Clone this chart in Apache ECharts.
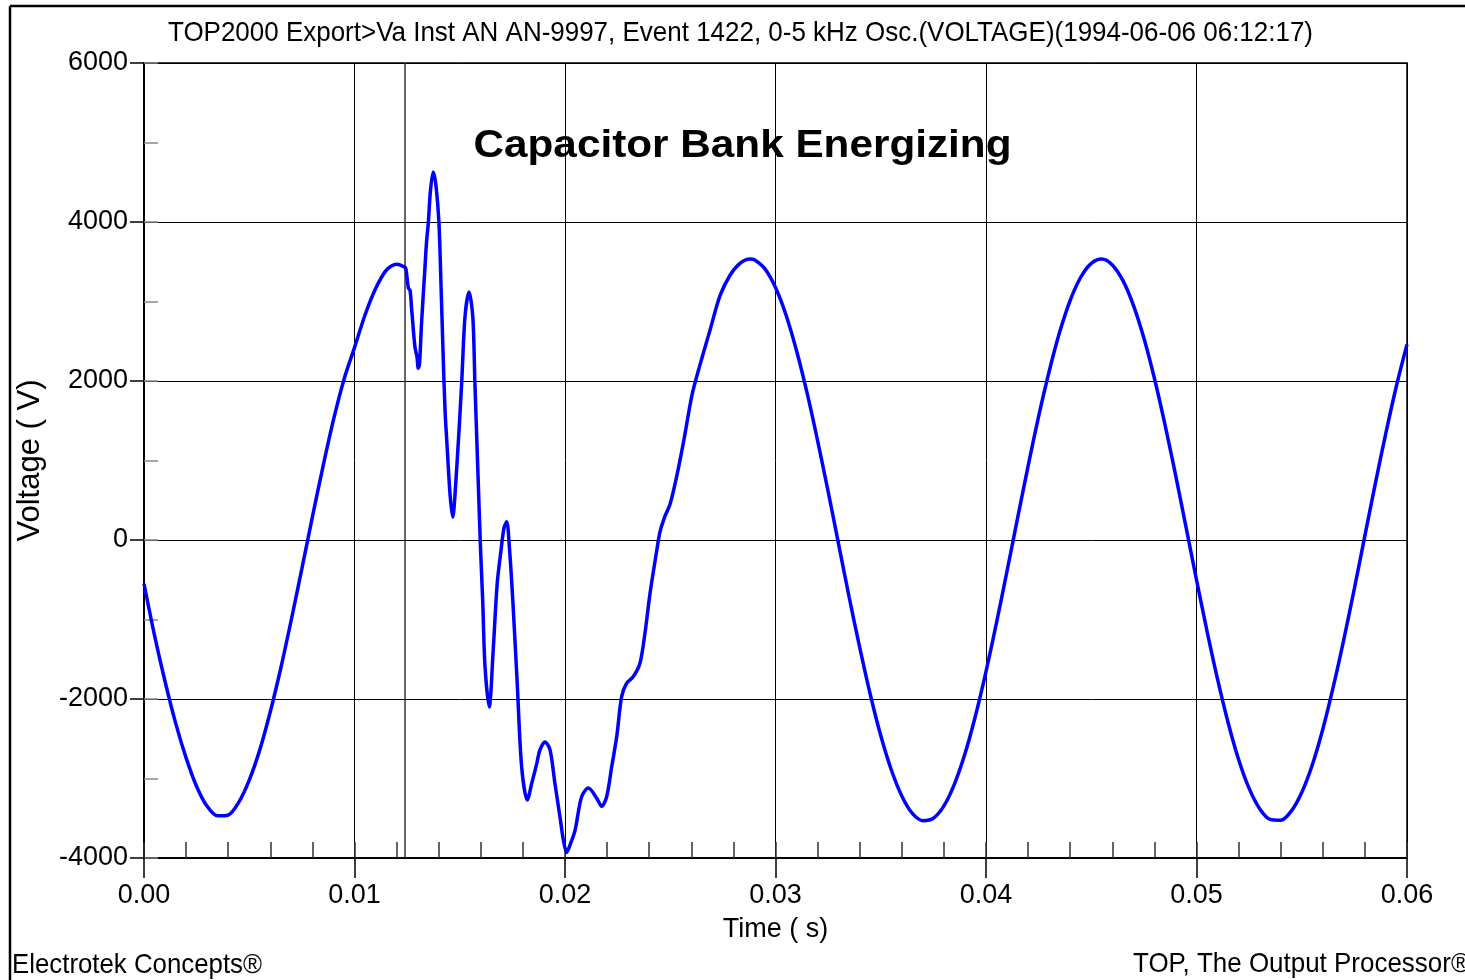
<!DOCTYPE html>
<html>
<head>
<meta charset="utf-8">
<title>Capacitor Bank Energizing</title>
<script src="https://cdn.jsdelivr.net/npm/echarts@6/dist/echarts.min.js"></script>
<style>
  html, body { margin: 0; padding: 0; background: #fff; }
  #chart { width: 1465px; height: 980px; }
</style>
</head>
<body>
<div id="chart"></div>
<script>
// Phase-A instantaneous voltage, event 1422 (seconds, volts)
const timeS = [
  0.0000, 0.0005, 0.0010, 0.0015, 0.0020, 0.0025, 0.0030, 0.0035, 0.0040, 0.0045,
  0.0050, 0.0055, 0.0060, 0.0065, 0.0070, 0.0075, 0.0080, 0.0085, 0.0090, 0.0095,
  0.0100, 0.0105, 0.0110, 0.0115, 0.0120,
  0.01240, 0.01245, 0.01256, 0.01264, 0.01272, 0.01287, 0.01297, 0.01303, 0.01309, 0.01318,
  0.01327, 0.01335, 0.01342, 0.01351, 0.01361, 0.01374, 0.01387, 0.01401, 0.01411, 0.01420,
  0.01430, 0.01441, 0.01454, 0.01466, 0.01486, 0.01509, 0.01525, 0.01544, 0.01562, 0.01572,
  0.01588, 0.01599, 0.01609, 0.01620, 0.01640, 0.01659, 0.01678, 0.01696, 0.01710, 0.01723,
  0.01736, 0.01752, 0.01773, 0.01794, 0.01821, 0.01842, 0.01866, 0.01881, 0.01905, 0.01929,
  0.01952, 0.01976, 0.01992, 0.02008, 0.02027, 0.02048, 0.02079, 0.02111, 0.02151, 0.02174,
  0.02198, 0.02222, 0.02246, 0.02269, 0.02293, 0.02324, 0.02356, 0.02380, 0.02404, 0.02436,
  0.02451, 0.02475, 0.02499, 0.02527, 0.02565, 0.02603, 0.02641, 0.02689, 0.02736, 0.02784,
  0.02831, 0.02879,
  0.0290, 0.0295, 0.0300, 0.0305, 0.0310, 0.0315, 0.0320, 0.0325, 0.0330, 0.0335,
  0.0340, 0.0345, 0.0350, 0.0355, 0.0360, 0.0365, 0.0370, 0.0375, 0.0380, 0.0385,
  0.0390, 0.0395, 0.0400, 0.0405, 0.0410, 0.0415, 0.0420, 0.0425, 0.0430, 0.0435,
  0.0440, 0.0445, 0.0450, 0.0455, 0.0460, 0.0465, 0.0470, 0.0475, 0.0480, 0.0485,
  0.0490, 0.0495, 0.0500, 0.0505, 0.0510, 0.0515, 0.0520, 0.0525, 0.0530, 0.0535,
  0.0540, 0.0545, 0.0550, 0.0555, 0.0560, 0.0565, 0.0570, 0.0575, 0.0580, 0.0585,
  0.0590, 0.0595, 0.0600
];

const voltageV = [
  -550, -1200, -1780, -2300, -2740, -3100, -3350, -3470, -3460, -3300,
  -3020, -2640, -2160, -1610, -1000, -360, 290, 920, 1510, 2020,
  2420, 2830, 3160, 3390, 3470,
  3430, 3400, 3170, 3140, 2890, 2430, 2300, 2160, 2220, 2700,
  3100, 3440, 3740, 4000, 4400, 4630, 4460, 4000, 3210, 2420,
  1640, 1130, 570, 290, 920, 1970, 2810, 3120, 2810, 1975,
  720, -130, -760, -1590, -2100, -1380, -545, -130, 150, 230,
  -100, -760, -1800, -2850, -3270, -3060, -2810, -2640, -2540, -2640,
  -3060, -3480, -3770, -3930, -3815, -3650, -3230, -3120, -3250, -3350,
  -3230, -2850, -2470, -1970, -1800, -1720, -1550, -1170, -670, -130,
  100, 300, 450, 755, 1260, 1820, 2200, 2640, 3070, 3330,
  3480, 3535,
  3525, 3410, 3175, 2830, 2380, 1850, 1250, 610, -55, -720,
  -1350, -1940, -2460, -2890, -3220, -3440, -3530, -3500, -3345, -3070,
  -2690, -2210, -1655, -1040, -390, 275, 930, 1555, 2120, 2615,
  3015, 3305, 3480, 3535, 3460, 3265, 2955, 2540, 2035, 1455,
  825, 165, -500, -1145, -1750, -2295, -2760, -3125, -3380, -3515,
  -3525, -3410, -3175, -2830, -2380, -1845, -1250, -610, 55, 715,
  1350, 1940, 2460
];

// Moment the capacitor bank switch closes
const triggerTime = 0.0124;

// Axis scales and tick steps
const timeMin = 0, timeMax = 0.06, timeMajor = 0.01, timeMinor = 0.002;
const voltMin = -4000, voltMax = 6000, voltMajor = 2000, voltMinor = 1000;

// Text drawn on the page
const headerText = 'TOP2000 Export>Va Inst AN AN-9997, Event 1422, 0-5 kHz Osc.(VOLTAGE)(1994-06-06 06:12:17)';
const titleText = 'Capacitor Bank Energizing';
const xName = 'Time ( s)';
const yName = 'Voltage ( V)';
const footerLeft = 'Electrotek Concepts\u00AE';
const footerRight = 'TOP, The Output Processor\u00AE';

const FONT = '"Liberation Sans", Arial, Helvetica, sans-serif';

// Horizontal squeeze so a string fills a given width (the captions use tight spacing)
const measureCtx = document.createElement('canvas').getContext('2d');
function squeeze(text, font, width) {
  measureCtx.font = font;
  return width / measureCtx.measureText(text).width;
}

const waveform = timeS.map((t, i) => [t, voltageV[i]]);
const triggerLine = [[triggerTime, voltMin], [triggerTime, voltMax]];

const headerFont = '28px ' + FONT;
const titleFont = 'bold 39px ' + FONT;
const footFont = '28px ' + FONT;

const chart = echarts.init(document.getElementById('chart'));

chart.setOption({
  animation: false,
  backgroundColor: '#ffffff',
  grid: {
    left: 144, right: 58, top: 63, bottom: 122,
    show: true, borderColor: '#000', borderWidth: 1.5,
    backgroundColor: 'transparent'
  },
  xAxis: [
    {
      type: 'value', min: timeMin, max: timeMax, interval: timeMajor,
      position: 'bottom',
      name: xName, nameLocation: 'middle', nameGap: 58,
      nameTextStyle: { fontFamily: FONT, fontSize: 27, color: '#000' },
      axisLine: { show: true, onZero: false, lineStyle: { color: '#000', width: 2 } },
      axisTick: { show: true, inside: false, length: 20, lineStyle: { color: '#000', width: 1.5 } },
      axisLabel: {
        fontFamily: FONT, fontSize: 27, color: '#000', margin: 24,
        formatter: v => v.toFixed(2)
      },
      splitLine: { show: true, lineStyle: { color: '#000', width: 1 } }
    },
    {
      // inside minor ticks along the time axis
      type: 'value', min: timeMin, max: timeMax, interval: timeMinor,
      position: 'bottom',
      axisLine: { show: false, onZero: false },
      axisTick: { show: true, inside: true, length: 16, lineStyle: { color: '#333', width: 1.5 } },
      axisLabel: { show: false },
      splitLine: { show: false }
    }
  ],
  yAxis: [
    {
      type: 'value', min: voltMin, max: voltMax, interval: voltMajor,
      position: 'left',
      name: yName, nameLocation: 'middle', nameGap: 98,
      nameTextStyle: { fontFamily: FONT, fontSize: 31, color: '#000' },
      axisLine: { show: true, onZero: false, lineStyle: { color: '#000', width: 2 } },
      axisTick: { show: true, inside: false, length: 14, lineStyle: { color: '#000', width: 1.5 } },
      axisLabel: {
        fontFamily: FONT, fontSize: 27, color: '#000', margin: 16,
        formatter: v => String(v)
      },
      splitLine: { show: true, lineStyle: { color: '#000', width: 1 } }
    },
    {
      // inside minor ticks along the voltage axis
      type: 'value', min: voltMin, max: voltMax, interval: voltMinor,
      position: 'left',
      axisLine: { show: false, onZero: false },
      axisTick: { show: true, inside: true, length: 14, lineStyle: { color: '#888', width: 1.5 } },
      axisLabel: { show: false },
      splitLine: { show: false }
    }
  ],
  series: [
    {
      // switching instant marker
      type: 'line',
      xAxisIndex: 0, yAxisIndex: 0,
      data: triggerLine,
      showSymbol: false,
      silent: true,
      lineStyle: { color: '#333', width: 1.5 },
      z: 3
    },
    {
      type: 'line',
      xAxisIndex: 0, yAxisIndex: 0,
      data: waveform,
      showSymbol: false,
      smooth: 0.3,
      lineStyle: { color: '#0000ff', width: 3.5 },
      z: 5
    }
  ],
  graphic: [
    // outer frame
    { type: 'line', shape: { x1: 10, y1: 6, x2: 1465, y2: 6 }, style: { stroke: '#000', lineWidth: 2.5 } },
    { type: 'line', shape: { x1: 10, y1: 6, x2: 10, y2: 980 }, style: { stroke: '#000', lineWidth: 2.5 } },
    {
      type: 'text', x: 740.5, y: 33, scaleX: squeeze(headerText, headerFont, 1145),
      style: { text: headerText, font: headerFont, fill: '#000', align: 'center', verticalAlign: 'middle' }
    },
    {
      type: 'text', x: 742.5, y: 146, z: -1, scaleX: squeeze(titleText, titleFont, 538),
      style: { text: titleText, font: titleFont, fill: '#000', align: 'center', verticalAlign: 'middle' }
    },
    {
      type: 'text', x: 12, y: 965, scaleX: squeeze(footerLeft, footFont, 250),
      style: { text: footerLeft, font: footFont, fill: '#000', align: 'left', verticalAlign: 'middle' }
    },
    {
      type: 'text', x: 1133, y: 964, scaleX: squeeze(footerRight, footFont, 337),
      style: { text: footerRight, font: footFont, fill: '#000', align: 'left', verticalAlign: 'middle' }
    }
  ]
});
</script>
</body>
</html>
